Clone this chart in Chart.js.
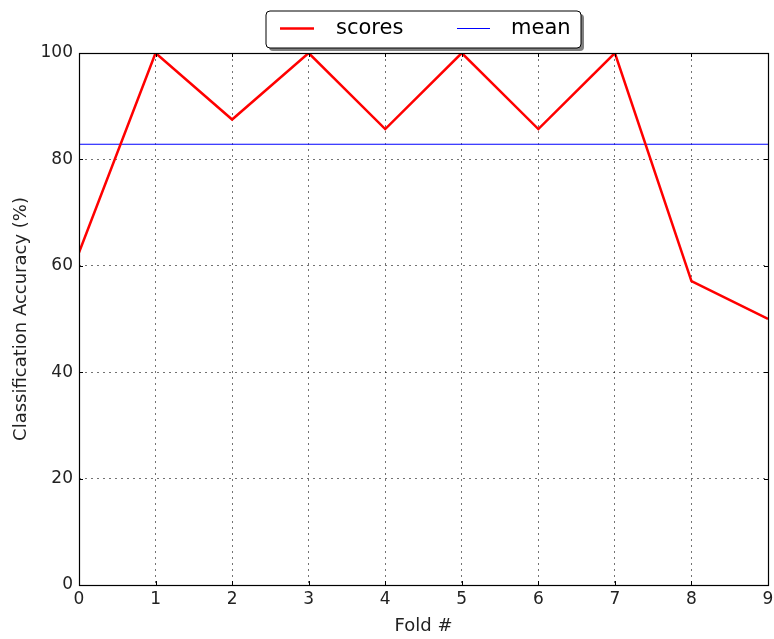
<!DOCTYPE html>
<html>
<head>
<meta charset="utf-8">
<script src="https://cdn.jsdelivr.net/npm/chart.js@4.4.0/dist/chart.umd.min.js"></script>
<style>
  html, body { margin: 0; padding: 0; background: #fff; }
  #wrap { width: 774px; height: 639px; }
</style>
</head>
<body>
<div id="wrap"><canvas id="canvas" width="774" height="639"></canvas></div>
<script>
// data
var folds = [0, 1, 2, 3, 4, 5, 6, 7, 8, 9];
var scores = [62.5, 100, 87.5, 100, 85.7, 100, 85.7, 100, 57.1, 50];
var meanScore = 82.85;
var yTicks = [0, 20, 40, 60, 80, 100];

var FONT = "'DejaVu Sans', sans-serif";

var scorePoints = folds.map(function (f, i) { return {x: f, y: scores[i]}; });
var meanPoints = folds.map(function (f) { return {x: f, y: meanScore}; });

// box round the plot, inward ticks and the shadowed legend
var frame = {
    id: 'frame',
    afterDatasetsDraw: function (chart) {
        var ctx = chart.ctx, a = chart.chartArea;
        var xs = chart.scales.x, ys = chart.scales.y;
        ctx.save();
        ctx.strokeStyle = '#000';
        ctx.lineWidth = 1;
        ctx.beginPath();
        folds.forEach(function (f) {
            var px = Math.round(xs.getPixelForValue(f)) + 0.5;
            ctx.moveTo(px, a.bottom); ctx.lineTo(px, a.bottom - 4);
            ctx.moveTo(px, a.top); ctx.lineTo(px, a.top + 4);
        });
        yTicks.forEach(function (t) {
            var py = Math.round(ys.getPixelForValue(t)) + 0.5;
            ctx.moveTo(a.left, py); ctx.lineTo(a.left + 4, py);
            ctx.moveTo(a.right, py); ctx.lineTo(a.right - 4, py);
        });
        ctx.stroke();
        ctx.lineWidth = 1.2;
        ctx.strokeRect(Math.round(a.left) + 0.5, Math.round(a.top) + 0.5,
                       Math.round(a.right - a.left), Math.round(a.bottom - a.top));

        // legend
        var lx = 266, ly = 11, lw = 315, lh = 37;
        ctx.fillStyle = '#808080';
        roundRect(ctx, lx + 3, ly + 3, lw, lh, 4);
        ctx.fill();
        ctx.fillStyle = '#fff';
        roundRect(ctx, lx, ly, lw, lh, 4);
        ctx.fill();
        ctx.lineWidth = 1;
        ctx.strokeStyle = '#000';
        ctx.stroke();

        ctx.lineWidth = 2.5;
        ctx.strokeStyle = '#ff0000';
        ctx.beginPath(); ctx.moveTo(280, 28.5); ctx.lineTo(314, 28.5); ctx.stroke();
        ctx.lineWidth = 1.2;
        ctx.strokeStyle = '#0000ff';
        ctx.beginPath(); ctx.moveTo(457, 28.5); ctx.lineTo(490, 28.5); ctx.stroke();

        ctx.fillStyle = '#000';
        ctx.font = '21px ' + FONT;
        ctx.textBaseline = 'middle';
        ctx.textAlign = 'left';
        ctx.fillText('scores', 336, 29);
        ctx.fillText('mean', 511, 29);
        ctx.restore();
    }
};

function roundRect(ctx, x, y, w, h, r) {
    ctx.beginPath();
    ctx.moveTo(x + r, y);
    ctx.lineTo(x + w - r, y);
    ctx.quadraticCurveTo(x + w, y, x + w, y + r);
    ctx.lineTo(x + w, y + h - r);
    ctx.quadraticCurveTo(x + w, y + h, x + w - r, y + h);
    ctx.lineTo(x + r, y + h);
    ctx.quadraticCurveTo(x, y + h, x, y + h - r);
    ctx.lineTo(x, y + r);
    ctx.quadraticCurveTo(x, y, x + r, y);
    ctx.closePath();
}

var gridDots = {
    color: 'rgba(0,0,0,0.55)',
    lineWidth: 1,
    drawTicks: false
};

var ctx = document.getElementById('canvas').getContext('2d');
var myChart = new Chart(ctx, {
    type: 'line',
    data: {
        datasets: [
            {
                label: 'scores',
                data: scorePoints,
                borderColor: '#ff0000',
                borderWidth: 2.5,
                pointRadius: 0,
                tension: 0
            },
            {
                label: 'mean',
                data: meanPoints,
                borderColor: '#0000ff',
                borderWidth: 1.2,
                pointRadius: 0,
                tension: 0
            }
        ]
    },
    options: {
        responsive: false,
        animation: false,
        layout: { padding: { top: 53, right: 6, left: 0, bottom: 0 } },
        plugins: { legend: { display: false }, tooltip: { enabled: false } },
        scales: {
            x: {
                type: 'linear',
                min: 0, max: 9,
                border: { display: false, dash: [2, 4] },
                grid: gridDots,
                ticks: {
                    stepSize: 1,
                    color: '#222',
                    padding: 4,
                    maxRotation: 0,
                    font: { family: FONT, size: 17 }
                },
                title: {
                    display: true,
                    text: 'Fold #',
                    color: '#222',
                    padding: { top: 2, bottom: 2 },
                    font: { family: FONT, size: 18 }
                },
                afterFit: function (scale) {
                    scale.height = 54;
                    scale.paddingLeft = 0;
                    scale.paddingRight = 0;
                }
            },
            y: {
                min: 0, max: 100,
                border: { display: false, dash: [2, 4] },
                grid: gridDots,
                afterBuildTicks: function (scale) {
                    scale.ticks = yTicks.map(function (v) { return {value: v}; });
                },
                ticks: {
                    color: '#222',
                    padding: 6,
                    font: { family: FONT, size: 17 }
                },
                title: {
                    display: true,
                    text: 'Classification Accuracy (%)',
                    color: '#222',
                    padding: { top: 11, bottom: 4 },
                    font: { family: FONT, size: 18 }
                },
                afterFit: function (scale) {
                    scale.width = 79;
                    scale.paddingTop = 0;
                    scale.paddingBottom = 0;
                }
            }
        }
    },
    plugins: [frame]
});
</script>
</body>
</html>
